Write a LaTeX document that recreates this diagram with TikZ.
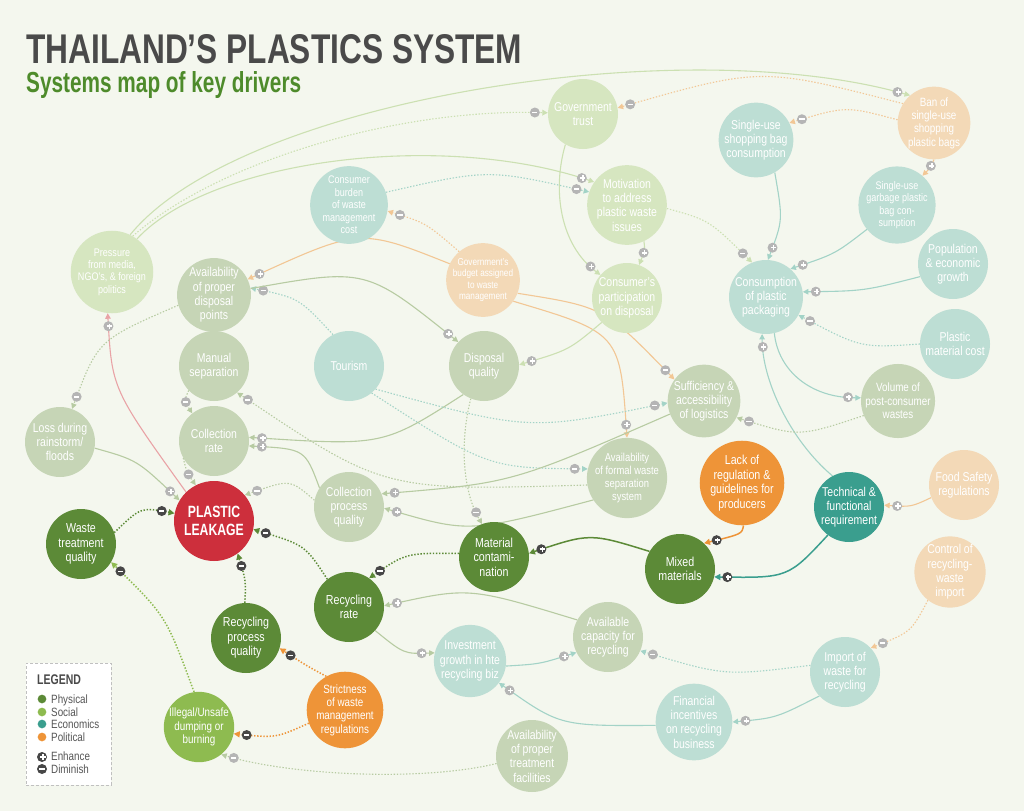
\documentclass[tikz,border=0pt]{standalone}
\usepackage{graphicx}
\usepackage{fontspec}
\setmainfont{Liberation Sans}[FakeStretch=0.82]
\newfontfamily\bcfont{Liberation Sans}[FakeStretch=0.75]
\usetikzlibrary{arrows.meta,decorations.markings}
\pgfdeclarelayer{back}
\pgfdeclarelayer{edges}
\pgfsetlayers{back,edges,main}
\definecolor{kBg}{HTML}{F4F7EE}
\definecolor{nS}{HTML}{C6D5B6}
\definecolor{nG}{HTML}{D6E6C0}
\definecolor{nT}{HTML}{BDDED4}
\definecolor{nO}{HTML}{F3D9B7}
\definecolor{kP}{HTML}{5C8A37}
\definecolor{kSo}{HTML}{8EBB50}
\definecolor{kT}{HTML}{3A9E8E}
\definecolor{kO}{HTML}{EE9438}
\definecolor{kRed}{HTML}{CD2F3C}
\definecolor{eSage}{HTML}{B7CBA2}
\definecolor{eGreen}{HTML}{CCE0B2}
\definecolor{eTeal}{HTML}{A3D3C7}
\definecolor{eOrange}{HTML}{F2C795}
\definecolor{eRed}{HTML}{E9A3A6}
\definecolor{sgLc}{HTML}{B5B5B5}
\definecolor{sgDc}{HTML}{474747}
\definecolor{kTitle}{HTML}{4A4A4A}
\definecolor{kSub}{HTML}{4E8B2B}
\definecolor{kLegB}{HTML}{C0C0C0}
\definecolor{kLegT}{HTML}{555555}
\newcommand\sgP{\rlap{\rule[1.85pt]{5.2pt}{1.5pt}}\hspace{1.85pt}\rule{1.5pt}{5.2pt}\hspace{1.85pt}}
\newcommand\sgM{\rule{5.2pt}{1.5pt}}
\tikzset{
 nd/.style={circle,minimum size=70pt,inner sep=0pt,text=white,align=center},
 fa/.style={font=\fontsize{12.8}{14.3}\selectfont},
 fb/.style={font=\fontsize{11}{12.4}\selectfont},
 fc/.style={font=\fontsize{10}{11.3}\selectfont},
 fd/.style={font=\fontsize{11.5}{12.7}\selectfont},
 fe/.style={font=\fontsize{12}{13.3}\selectfont},
 fk/.style={font=\fontsize{13}{14.6}\selectfont},
 sgl/.style={circle,fill=sgLc,text=white,inner sep=0pt,minimum size=10pt},
 sgd/.style={circle,fill=sgDc,text=white,inner sep=0pt,minimum size=10pt},
 ed/.style={line width=1.1pt,-{Triangle[length=5.5pt,width=5.5pt]}},
 edk/.style={line width=1.5pt,-{Triangle[length=6pt,width=6pt]}},
 dotl/.style={dash pattern=on 1.4pt off 1.7pt},
 esage/.style={draw=eSage}, egreen/.style={draw=eGreen}, eteal/.style={draw=eTeal},
 eorange/.style={draw=eOrange}, ered/.style={draw=eRed},
 dteal/.style={draw=kT}, dorange/.style={draw=kO}, dphys/.style={draw=kP}, dsoc/.style={draw=kSo},
 splus/.style={postaction={decorate,decoration={markings,mark=at position -13pt with {\node[sgl]{\sgP};}}}},
 sminus/.style={postaction={decorate,decoration={markings,mark=at position -13pt with {\node[sgl]{\sgM};}}}},
 dplus/.style={postaction={decorate,decoration={markings,mark=at position -13pt with {\node[sgd]{\sgP};}}}},
 dminus/.style={postaction={decorate,decoration={markings,mark=at position -13pt with {\node[sgd]{\sgM};}}}},
 legtxt/.style={anchor=base west,inner sep=0pt,text=kLegT,font=\fontsize{12}{12}\selectfont},
}
\begin{document}
\begin{tikzpicture}[x=1pt,y=-1pt]
\begin{pgfonlayer}{back}
\fill[kBg] (0,0) rectangle (1024,811);
\end{pgfonlayer}
\useasboundingbox (0,0) rectangle (1024,811);
% title
\node[anchor=base west,inner sep=0pt,text=kTitle] (title) at (26,63) {\resizebox{496pt}{29pt}{\bfseries THAILAND’S PLASTICS SYSTEM}};
\node[anchor=base west,inner sep=0pt,text=kSub] (sub) at (26,92) {\resizebox{275pt}{21pt}{\bfseries Systems map of key drivers}};
% nodes
\node[nd,fill=nG,fa] (gt) at (583,114) {Government\\trust};
\node[nd,fill=nT,fa] (sb) at (756,140) {Single-use\\shopping bag\\consumption};
\node[nd,fill=nO,fe] (ban) at (934,123) {Ban of\\single-use\\shopping\\plastic bags};
\node[nd,fill=nG,fa] (mot) at (627,205) {Motivation\\to address\\plastic waste\\issues};
\node[nd,fill=nT,fb] (gb) at (897,205) {Single-use\\garbage plastic\\bag con-\\sumption};
\node[nd,fill=nT,fa] (pop) at (953,264) {Population\\\& economic\\growth};
\node[nd,fill=nT,fa] (cpp) at (766,297) {Consumption\\of plastic\\packaging};
\node[nd,fill=nT,fa] (pmc) at (955,344) {Plastic\\material cost};
\node[nd,fill=nS,fe] (vol) at (898,401) {Volume of\\post-consumer\\wastes};
\node[nd,fill=nS,fa] (suf) at (704,401) {Sufficiency \&\\accessibility\\of logistics};
\node[nd,fill=nG,fa] (cp) at (627,298) {Consumer’s\\participation\\on disposal};
\node[nd,fill=nO,fc] (bud) at (483,280) {Government’s\\budget assigned\\to waste\\management};
\node[nd,fill=nT,fb] (cb) at (349,205) {Consumer\\burden\\of waste\\management\\cost};
\node[nd,fill=nG,fb] (pr) at (112,272) {Pressure\\from media,\\NGO’s, \& foreign\\politics};
\node[nd,fill=nS,fa] (apd) at (214,295) {Availability\\of proper\\disposal\\points};
\node[nd,fill=nS,fa] (dq) at (484,366) {Disposal\\quality};
\node[nd,fill=nT,fa] (tour) at (349,366) {Tourism};
\node[nd,fill=nS,fa] (ms) at (214,366) {Manual\\separation};
\node[nd,fill=nS,fa] (cr) at (214,441) {Collection\\rate};
\node[nd,fill=nS,fa] (loss) at (60,442) {Loss during\\rainstorm/\\floods};
\node[nd,fill=kRed,minimum size=80pt,font=\bcfont\bfseries\fontsize{16.3}{17.5}\selectfont] (pl) at (214,521) {PLASTIC\\LEAKAGE};
\node[nd,fill=nS,fa] (cpq) at (349,507) {Collection\\process\\quality};
\node[nd,fill=nS,fd] (afw) at (627,478) {Availability\\of formal waste\\separation\\system};
\node[nd,fill=kO,fk] (lack) at (742,483) {Lack of\\regulation \&\\guidelines for\\producers};
\node[nd,fill=kT,fa] (tech) at (849,507) {Technical \&\\functional\\requirement};
\node[nd,fill=nO,fa] (food) at (964,485) {Food Safety\\regulations};
\node[nd,fill=nO,fa] (ctrl) at (950,572) {Control of\\recycling-\\waste\\import};
\node[nd,fill=kP,fk] (wtq) at (81,544) {Waste\\treatment\\quality};
\node[nd,fill=kP,fk] (mc) at (494,557) {Material\\contami-\\nation};
\node[nd,fill=kP,fk] (mix) at (680,569) {Mixed\\materials};
\node[nd,fill=kP,fk] (rr) at (349,607) {Recycling\\rate};
\node[nd,fill=kP,fk] (rpq) at (246,638) {Recycling\\process\\quality};
\node[nd,fill=nS,fa] (ac) at (608,637) {Available\\capacity for\\recycling};
\node[nd,fill=nT,fa] (inv) at (470,661) {Investment\\growth in hte\\recycling biz};
\node[nd,fill=nT,fa] (imp) at (845,672) {Import of\\waste for\\recycling};
\node[nd,fill=nT,fa] (fin) at (694,722) {Financial\\incentives\\on recycling\\business};
\node[nd,fill=nS,fa] (aptf) at (532,756) {Availability\\of proper\\treatment\\facilities};
\node[nd,fill=kO,fe] (str) at (345,710) {Strictness\\of waste\\management\\regulations};
\node[nd,fill=kSo,fe] (ill) at (199,727) {Illegal/Unsafe\\dumping or\\burning};
% legend
\node[draw=kLegB,dash pattern=on 3pt off 2pt,fill=white,line width=0.8pt,minimum width=85pt,minimum height=122pt,inner sep=0pt,anchor=north west] (leg) at (26,663) {};
\node[anchor=base west,inner sep=0pt,text=kTitle,font=\bcfont\bfseries\fontsize{14}{14}\selectfont] (legt) at (37,684) {LEGEND};
\node[circle,fill=kP,minimum size=8.7pt,inner sep=0pt] (l1) at (42,699) {};
\node[circle,fill=kSo,minimum size=8.7pt,inner sep=0pt] (l2) at (42,712) {};
\node[circle,fill=kT,minimum size=8.7pt,inner sep=0pt] (l3) at (42,724) {};
\node[circle,fill=kO,minimum size=8.7pt,inner sep=0pt] (l4) at (42,737) {};
\node[legtxt] (t1) at (51,703) {Physical};
\node[legtxt] (t2) at (51,716) {Social};
\node[legtxt] (t3) at (51,728) {Economics};
\node[legtxt] (t4) at (51,741) {Political};
\node[sgd] (l5) at (42,757) {\sgP};
\node[sgd] (l6) at (42,769) {\sgM};
\node[legtxt] (t5) at (51,760) {Enhance};
\node[legtxt] (t6) at (51,773) {Diminish};
% edges
\begin{pgfonlayer}{edges}
\draw[ed,egreen,splus] (pr.64) .. controls (240,100) and (680,30) .. (ban.131);
\draw[ed,egreen,dotl,sminus] (pr.60) .. controls (220,160) and (400,108) .. (gt.178);
\draw[ed,egreen,splus] (pr.53) .. controls (210,160) and (440,130) .. (mot.145);
\draw[ed,eteal,dotl,sminus] (cb.19) .. controls (488,169) .. (mot.161);
\draw[ed,eorange,dotl,sminus] (bud.130) .. controls (426,223) .. (cb.351);
\draw[ed,eorange,splus] (bud.154) .. controls (360,228) .. (apd.25);
\draw[ed,eorange,sminus] (bud.339) .. controls (604,307) .. (suf.144);
\draw[ed,eorange,splus] (bud.325) .. controls (620,333) .. (afw.90);
\draw[ed,egreen,splus] (gt.240) .. controls (552,190) and (560,245) .. (cp.139);
\draw[ed,egreen,splus] (mot.295) .. controls (645,250) .. (cp.70);
\draw[ed,egreen,dotl,sminus] (mot.355) .. controls (709,220) .. (cpp.112);
\draw[ed,eteal,splus] (sb.300) .. controls (783,220) .. (cpp.87);
\draw[ed,eorange,dotl,sminus] (ban.175) .. controls (846,106) .. (sb.27);
\draw[ed,eorange,dotl,sminus] (ban.148) .. controls (761,67) .. (gt.10);
\draw[ed,eorange,splus] (ban.270) .. controls (930,168) .. (gb.49);
\draw[ed,eteal,splus] (gb.219) .. controls (835,254) .. (cpp.49);
\draw[ed,eteal,splus] (pop.201) .. controls (864,291) .. (cpp.8);
\draw[ed,eteal,dotl,sminus] (pmc.180) .. controls (861,348) .. (cpp.331);
\draw[ed,eteal,splus] (cpp.283) .. controls (778,370) and (810,398) .. (vol.175);
\draw[ed,eteal,splus] (tech.118) .. controls (790,440) and (762,380) .. (cpp.264);
\draw[ed,esage,dotl,sminus] (vol.203) .. controls (799,437) .. (suf.333);
\draw[ed,eorange,splus] (food.201) .. controls (911,507) .. (tech.3);
\draw[edk,dteal,dplus] (tech.233) .. controls (788,578) .. (mix.347);
\draw[edk,dorange,dplus] (lack.272) .. controls (742,534) .. (mix.47);
\draw[edk,dphys,dplus] (mix.150) .. controls (590,533) .. (mc.6);
\draw[edk,dphys,dotl,dminus] (mc.174) .. controls (406,553) .. (rr.55);
\draw[edk,dphys,dotl,dminus] (rr.128) .. controls (305,545) .. (pl.348);
\draw[edk,dphys,dotl,dminus] (rpq.92) .. controls (246,581) .. (pl.306);
\draw[edk,dphys,dotl,dminus] (wtq.19) .. controls (141,507) .. (pl.169);
\draw[edk,dsoc,dotl,dminus] (ill.98) .. controls (166,616) .. (wtq.329);
\draw[edk,dorange,dotl,dminus] (str.119) .. controls (307,666) .. (rpq.343);
\draw[edk,dorange,dotl,dminus] (str.200) .. controls (276,738) .. (ill.349);
\draw[ed,esage,dotl,sminus] (aptf.192) .. controls (420,782) and (290,775) .. (ill.309);
\draw[ed,esage,splus] (ac.151) .. controls (469,587) .. (rr.2);
\draw[ed,esage,splus] (rr.318) .. controls (404,654) .. (inv.167);
\draw[ed,eteal,splus] (inv.352) .. controls (540,664) .. (ac.206);
\draw[ed,eteal,dotl,sminus] (imp.169) .. controls (725,676) .. (ac.337);
\draw[ed,eteal,splus] (imp.223) .. controls (776,718) .. (fin.0);
\draw[ed,eteal,splus] (fin.185) .. controls (560,726) .. (inv.323);
\draw[ed,eorange,dotl,sminus] (ctrl.232) .. controls (911,632) .. (imp.43);
\draw[ed,esage,splus] (dq.234) .. controls (383,446) .. (cr.6);
\draw[ed,esage,splus] (cpq.147) .. controls (305,449) .. (cr.352);
\draw[ed,esage,dotl,sminus] (cr.209) .. controls (187,473) .. (pl.117);
\draw[ed,esage,dotl,sminus] (ms.224) .. controls (184,401) .. (cr.128);
\draw[ed,esage,splus] (loss.350) .. controls (137,460) .. (pl.149);
\draw[ed,ered,splus] (pl.134) .. controls (112,389) .. (pr.264);
\draw[ed,esage,dotl,sminus] (apd.196) .. controls (98,340) .. (loss.70);
\draw[ed,eteal,dotl,sminus] (tour.117) .. controls (299,298) .. (apd.11);
\draw[ed,esage,splus] (apd.10) .. controls (366,268) .. (dq.137);
\draw[ed,egreen,splus] (cp.224) .. controls (569,350) .. (dq.2);
\draw[ed,eteal,dotl,sminus] (tour.319) .. controls (529,431) .. (suf.183);
\draw[ed,eteal,dotl,sminus] (tour.310) .. controls (488,468) .. (afw.167);
\draw[ed,esage,splus] (suf.201) .. controls (512,483) .. (cpq.22);
\draw[ed,esage,splus] (afw.213) .. controls (469,533) .. (cpq.358);
\draw[ed,esage,dotl,sminus] (cpq.169) .. controls (290,479) .. (pl.40);
\draw[ed,esage,dotl,sminus] (dq.248) .. controls (460,440) and (462,490) .. (mc.110);
\draw[ed,esage,dotl,sminus] (afw.190) .. controls (384,491) .. (ms.311);
\end{pgfonlayer}
\end{tikzpicture}
\end{document}
